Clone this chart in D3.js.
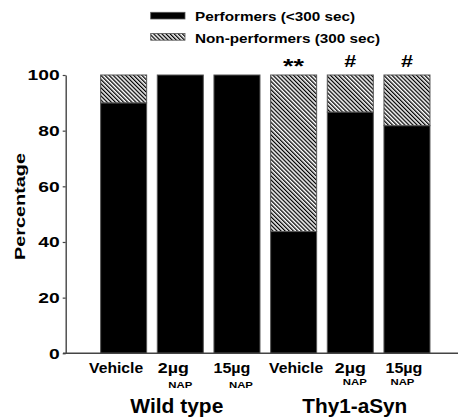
<!DOCTYPE html>
<html>
<head>
<meta charset="utf-8">
<script src="https://cdn.jsdelivr.net/npm/d3@7"></script>
<style>
  body { margin: 0; background: #fff; }
  text { font-family: "Liberation Sans", Arial, sans-serif; font-weight: bold; fill: #000; }
</style>
</head>
<body>
<div id="chart"></div>
<script>
const width = 460, height = 417;

// data
const categories = ["WT Vehicle", "WT 2ug", "WT 15ug", "Thy1 Vehicle", "Thy1 2ug", "Thy1 15ug"];
const doseLabels = ["Vehicle", "2\u00b5g", "15\u00b5g", "Vehicle", "2\u00b5g", "15\u00b5g"];
const subLabels = ["", "NAP", "NAP", "", "NAP", "NAP"];
const groupLabels = ["Wild type", "Thy1-aSyn"];
const performers = [90, 100, 100, 43.75, 86.7, 81.8];
const nonPerformers = [10, 0, 0, 56.25, 13.3, 18.2];
const marks = ["", "", "", "**", "#", "#"];
const yTicks = [0, 20, 40, 60, 80, 100];
const legendLabels = ["Performers (<300 sec)", "Non-performers (300 sec)"];

// the original lettering is drawn wide, so text is stretched to the measured widths
const doseDx = [-7.5, -7, -5, 2.5, 0, -3];
const doseLen = [54, 31, 37, 54, 31, 37];
const subDx = [1, 0, 4, 0, 4.5, -4.5];
const subY = [388, 388, 388, 385, 385, 385];
const legendLen = [160, 185];

const svg = d3.select("#chart").append("svg")
  .attr("width", width)
  .attr("height", height);

const defs = svg.append("defs");
defs.append("pattern")
  .attr("id", "hatch")
  .attr("patternUnits", "userSpaceOnUse")
  .attr("width", 2.9)
  .attr("height", 2.9)
  .attr("patternTransform", "rotate(-45)")
  .call(p => {
    p.append("rect").attr("width", 2.9).attr("height", 2.9).attr("fill", "#fff");
    p.append("line")
      .attr("x1", 0.65).attr("y1", 0).attr("x2", 0.65).attr("y2", 2.9)
      .attr("stroke", "#000").attr("stroke-width", 1.3);
  });

const x = d3.scaleBand()
  .domain(categories)
  .range([95.3, 435.3])
  .paddingInner(0.188)
  .paddingOuter(0.094);

const y = d3.scaleLinear()
  .domain([0, 100])
  .range([353.3, 75]);

// stacked bars: performers at the bottom, non-performers on top
const stackData = categories.map((c, i) => ({ cat: c, perf: performers[i], non: nonPerformers[i] }));

const bars = svg.append("g");
bars.selectAll("rect.perf")
  .data(stackData)
  .join("rect")
  .attr("class", "perf")
  .attr("x", d => x(d.cat))
  .attr("width", x.bandwidth())
  .attr("y", d => y(d.perf))
  .attr("height", d => y(0) - y(d.perf))
  .attr("fill", "#000")
  .attr("stroke", "#555")
  .attr("stroke-width", 1);

bars.selectAll("rect.non")
  .data(stackData.filter(d => d.non > 0))
  .join("rect")
  .attr("class", "non")
  .attr("x", d => x(d.cat))
  .attr("width", x.bandwidth())
  .attr("y", d => y(d.perf + d.non))
  .attr("height", d => y(d.perf) - y(d.perf + d.non))
  .attr("fill", "url(#hatch)")
  .attr("stroke", "#555")
  .attr("stroke-width", 1);

// y axis
const yAxis = svg.append("g")
  .attr("transform", "translate(65.7,0)")
  .call(d3.axisLeft(y).tickValues(yTicks).tickSize(3).tickPadding(3).tickSizeOuter(0));
yAxis.select(".domain").attr("stroke", "#444").attr("stroke-width", 1.4);
yAxis.selectAll(".tick line").attr("stroke", "#444").attr("stroke-width", 1.2);
yAxis.selectAll(".tick text")
  .attr("font-size", 15)
  .attr("font-family", "Liberation Sans")
  .attr("font-weight", "bold")
  .attr("fill", "#000")
  .attr("textLength", d => String(d).length * 10.7)
  .attr("lengthAdjust", "spacingAndGlyphs");

// x axis line
svg.append("line")
  .attr("x1", 63).attr("x2", 458)
  .attr("y1", y(0)).attr("y2", y(0))
  .attr("stroke", "#444")
  .attr("stroke-width", 1.4);

// category labels
svg.selectAll("text.dose")
  .data(categories)
  .join("text")
  .attr("class", "dose")
  .attr("x", (d, i) => x(d) + x.bandwidth() / 2 + doseDx[i])
  .attr("y", 373.3)
  .attr("text-anchor", "middle")
  .attr("font-size", 14)
  .attr("textLength", (d, i) => doseLen[i])
  .attr("lengthAdjust", "spacingAndGlyphs")
  .text((d, i) => doseLabels[i]);

svg.selectAll("text.sub")
  .data(categories.filter((d, i) => subLabels[i]))
  .join("text")
  .attr("class", "sub")
  .attr("x", d => {
    const i = categories.indexOf(d);
    return x(d) + x.bandwidth() / 2 + subDx[i];
  })
  .attr("y", d => subY[categories.indexOf(d)])
  .attr("text-anchor", "middle")
  .attr("font-size", 9.5)
  .attr("textLength", 24)
  .attr("lengthAdjust", "spacingAndGlyphs")
  .text(d => subLabels[categories.indexOf(d)]);

// group labels under the middle bar of each triple
svg.selectAll("text.group")
  .data(groupLabels)
  .join("text")
  .attr("class", "group")
  .attr("x", (d, i) => x(categories[i * 3 + 1]) + x.bandwidth() / 2 + (i === 0 ? -3.5 : 4.5))
  .attr("y", 412.7)
  .attr("text-anchor", "middle")
  .attr("font-size", 20)
  .attr("textLength", (d, i) => i === 0 ? 93 : 105)
  .attr("lengthAdjust", "spacingAndGlyphs")
  .text(d => d);

// significance marks
svg.selectAll("text.mark")
  .data(categories.filter((d, i) => marks[i]))
  .join("text")
  .attr("class", "mark")
  .attr("x", d => x(d) + x.bandwidth() / 2)
  .attr("y", d => marks[categories.indexOf(d)] === "**" ? 72.6 : 67.3)
  .attr("text-anchor", "middle")
  .attr("font-size", d => marks[categories.indexOf(d)] === "**" ? 20 : 17)
  .attr("textLength", d => marks[categories.indexOf(d)] === "**" ? 21 : 12)
  .attr("lengthAdjust", "spacingAndGlyphs")
  .text(d => marks[categories.indexOf(d)]);

// y axis title
svg.append("text")
  .attr("transform", "translate(25,206.5) rotate(-90)")
  .attr("text-anchor", "middle")
  .attr("font-size", 15.5)
  .attr("textLength", 107)
  .attr("lengthAdjust", "spacingAndGlyphs")
  .text("Percentage");

// legend
const legend = svg.append("g");
legendLabels.forEach((label, i) => {
  legend.append("rect")
    .attr("x", 150.7)
    .attr("y", i === 0 ? 12.3 : 33.5)
    .attr("width", 34.3)
    .attr("height", 6.7)
    .attr("fill", i === 0 ? "#000" : "url(#hatch)")
    .attr("stroke", "#555")
    .attr("stroke-width", 0.8);
  legend.append("text")
    .attr("x", 195)
    .attr("y", i === 0 ? 21.3 : 42.7)
    .attr("font-size", 12.6)
    .attr("textLength", legendLen[i])
    .attr("lengthAdjust", "spacingAndGlyphs")
    .text(label);
});
</script>
</body>
</html>
